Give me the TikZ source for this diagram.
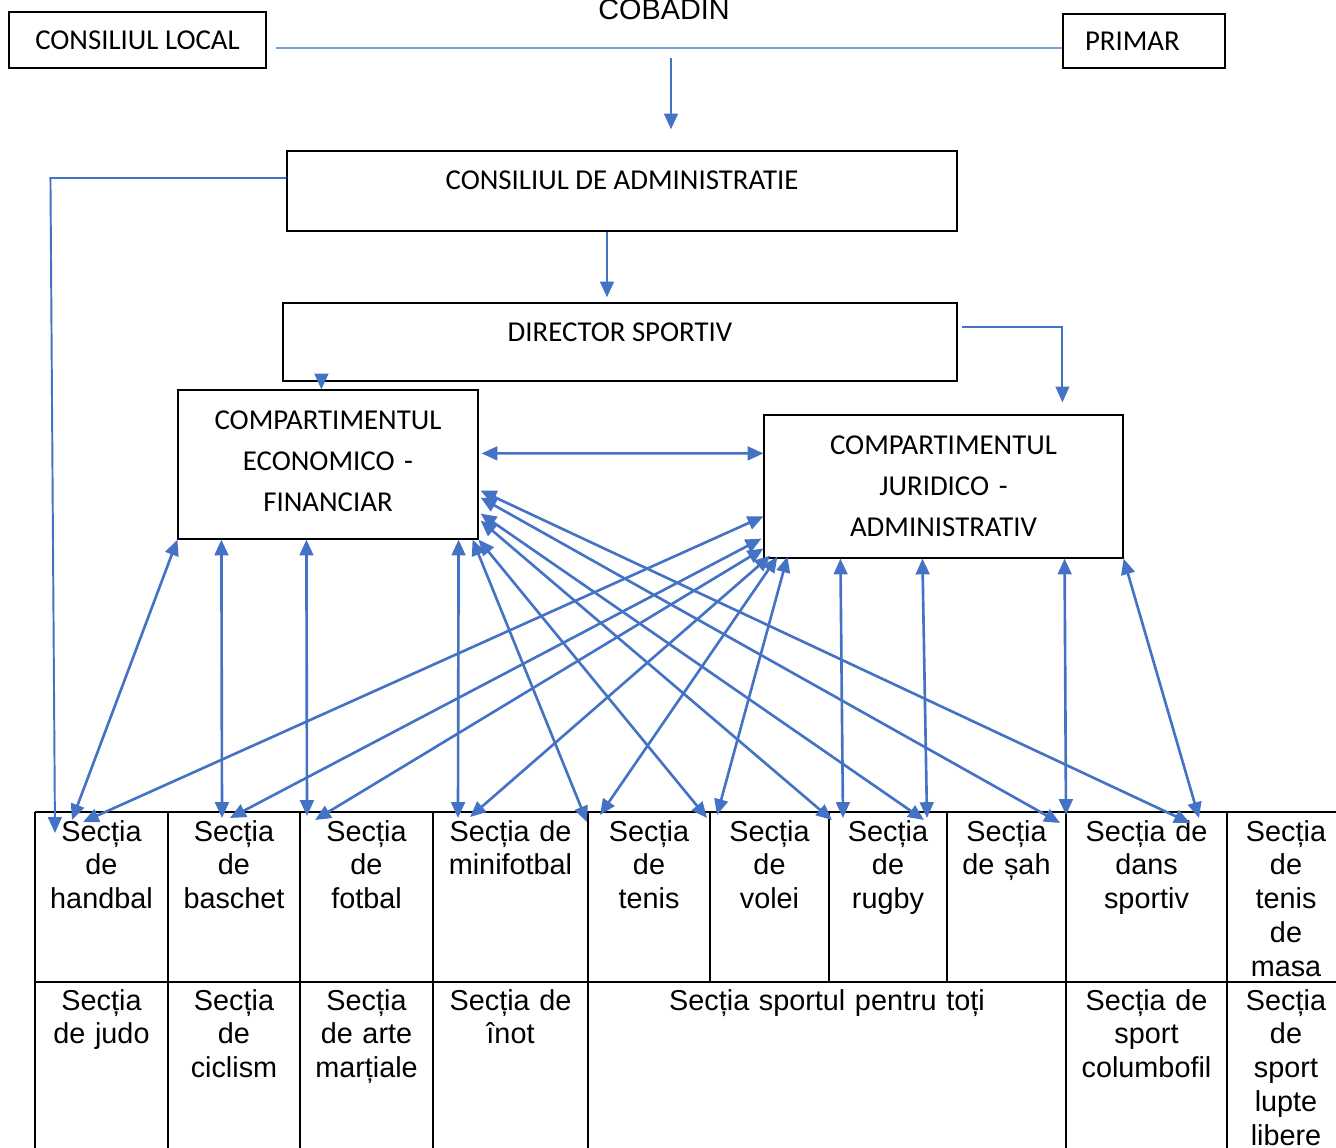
\documentclass[tikz,border=0pt]{standalone}
\usepackage{fontspec}
\setmainfont{Liberation Sans}
\newfontfamily\calibri{Carlito}
\usepackage{xcolor}
\usetikzlibrary{arrows.meta}
\usetikzlibrary{calc}
\definecolor{wordblue}{HTML}{4472C4}
\definecolor{paleblue}{HTML}{7A9EDC}
\tikzset{
	box/.style={
		draw,
		line width=0.7pt,
		rectangle,
		inner sep=0pt,
		align=center,
		font=\calibri\fontsize{16.4}{23.3}\selectfont
	},
	link/.style={
		wordblue,
		line width=1.5pt,
		-{Triangle[length=9pt,width=7.8pt]}
	},
	both/.style={
		link,
		{Triangle[length=9pt,width=7.8pt]}-{Triangle[length=9pt,width=7.8pt]}
	},
	cell/.style={
		anchor=base,
		inner sep=0pt,
		text width=2.8cm,
		align=center,
		font=\fontsize{16.4}{19.35}\selectfont
	}
}

\begin{document}
\begin{tikzpicture}[x=0.02cm,y=-0.02cm]
	\useasboundingbox (0,0) rectangle (1336,1148);
	\clip (0,0) rectangle (1336,1148);

	% (top)
	\node[anchor=base,font=\fontsize{16.4}{19}\selectfont] (title) at (664,20) {COBADIN};
	\node[box,line width=1pt,minimum width=5.14cm,minimum height=1.12cm] (cl) at (137.5,40) {CONSILIUL LOCAL};
	\node[box,line width=1pt,minimum width=3.24cm,minimum height=1.08cm,text width=2.36cm,align=left,inner xsep=0.44cm] (pr) at (1144,41) {PRIMAR};
	\node[box,minimum width=13.4cm,text height=0.766cm,text depth=0.834cm] (ca) at (622,191) {CONSILIUL DE ADMINISTRATIE};
	\node[box,minimum width=13.48cm,text height=0.766cm,text depth=0.794cm] (dir) at (620,342) {DIRECTOR SPORTIV};
	\node[box,text width=6cm,text height=0.786cm,text depth=2.194cm] (ef) at (328,464.5) {COMPARTIMENTUL\\ECONOMICO -\\FINANCIAR};
	\node[box,text width=7.18cm,text height=0.786cm,text depth=2.074cm] (ja) at (943.5,486.5) {COMPARTIMENTUL\\JURIDICO -\\ADMINISTRATIV};

	\draw[paleblue,line width=0.9pt] ($(cl.east)+(9,8)$) -- ($(pr.west)+(0,7)$);
	\coordinate (split) at (671,58);
	\draw[link] (split) -- ($(ca.north)+(49,-21)$);
	\draw[link] ($(ca.south)+(-15,0)$) -- ($(dir.north)+(-13,-5)$);
	\draw[link] ($(dir.south west)+(39,-6)$) -- ($(ef.north west)+(144,0)$);
	\draw[link,line width=1.1pt] ($(dir.east)+(4,-15)$) -| ($(ja.north west)+(299,-12)$);

	% (sectii)
	\draw[line width=1.1pt] (35,812) -- (1340,812);
	\draw[line width=1.1pt] (35,982) -- (1340,982);
	\draw[line width=1.1pt] (35,812) -- (35,1150);
	\draw[line width=1.1pt] (168,812) -- (168,1150);
	\draw[line width=1.1pt] (300,812) -- (300,1150);
	\draw[line width=1.1pt] (433,812) -- (433,1150);
	\draw[line width=1.1pt] (588,812) -- (588,1150);
	\draw[line width=1.1pt] (710,812) -- (710,982);
	\draw[line width=1.1pt] (829,812) -- (829,982);
	\draw[line width=1.1pt] (947,812) -- (947,982);
	\draw[line width=1.1pt] (1066,812) -- (1066,1150);
	\draw[line width=1.1pt] (1227,812) -- (1227,1150);

	\node[cell] (hb) at (101.5,841) {Secția\\de\\handbal};
	\node[cell] (bs) at (234,841) {Secția\\de\\baschet};
	\node[cell] (fb) at (366.5,841) {Secția\\de\\fotbal};
	\node[cell] (mf) at (510.5,841) {Secția de\\minifotbal};
	\node[cell] (tn) at (649,841) {Secția\\de\\tenis};
	\node[cell] (vl) at (769.5,841) {Secția\\de\\volei};
	\node[cell] (rg) at (888,841) {Secția\\de\\rugby};
	\node[cell] (sh) at (1006.5,841) {Secția\\de șah};
	\node[cell] (ds) at (1146.5,841) {Secția de\\dans\\sportiv};
	\node[cell] (tm) at (1286,841) {Secția\\de\\tenis\\de\\masa};
	\node[cell] (jd) at (101.5,1010) {Secția\\de judo};
	\node[cell] (cc) at (234,1010) {Secția\\de\\ciclism};
	\node[cell] (am) at (366.5,1010) {Secția\\de arte\\marțiale};
	\node[cell] (in) at (510.5,1010) {Secția de\\înot};
	\node[cell,text width=9cm] (st) at (827,1010) {Secția sportul pentru toți};
	\node[cell] (cb) at (1146.5,1010) {Secția de\\sport\\columbofil};
	\node[cell] (lp) at (1286,1010) {Secția\\de\\sport\\lupte\\libere};

	\coordinate (hbA) at (72,820);
	\coordinate (hbB) at (83,822);
	\coordinate (hbC) at (55,833);
	\coordinate (bsA) at (222,818);
	\coordinate (bsB) at (230,818);
	\coordinate (fbA) at (307,816);
	\coordinate (fbB) at (315,820);
	\coordinate (mfA) at (458,818);
	\coordinate (mfB) at (470,817);
	\coordinate (tnA) at (587,822);
	\coordinate (tnB) at (600,815);
	\coordinate (vlA) at (707,818);
	\coordinate (vlB) at (717,815);
	\coordinate (rgA) at (832,820);
	\coordinate (rgB) at (843,818);
	\coordinate (shA) at (924,820);
	\coordinate (shB) at (927,818);
	\coordinate (dsA) at (1060,823);
	\coordinate (dsB) at (1066,815);
	\coordinate (drA) at (1190,823);
	\coordinate (drB) at (1199,818);

	% (legaturi)
	\draw[link,line width=1.1pt] ($(ca.west)+(0,-13)$) -- ++(-236,0) -- (hbC);
	\draw[both] ($(ef.north east)+(3,64)$) -- ($(ja.north west)+(0,39)$);

	\draw[both] (ef.south west) -- (hbA);
	\draw[both] ($(ef.south west)+(44,0)$) -- (bsA);
	\draw[both] ($(ef.south west)+(129,0)$) -- (fbA);
	\draw[both] ($(ef.south east)+(-20,0)$) -- (mfA);
	\draw[both] ($(ef.south east)+(-6,0)$) -- (tnA);
	\draw[both] (ef.south east) -- (vlA);
	\draw[both] ($(ef.south east)+(2,-19)$) -- (rgA);
	\draw[both] ($(ef.south east)+(2,-26)$) -- (shA);
	\draw[both] ($(ef.south east)+(2,-42)$) -- (dsA);
	\draw[both] ($(ef.south east)+(2,-49)$) -- (drA);

	\draw[both] ($(ja.north west)+(0,102)$) -- (hbB);
	\draw[both] ($(ja.south west)+(-2,-20)$) -- (bsB);
	\draw[both] ($(ja.south west)+(0,-10)$) -- (fbB);
	\draw[both] ($(ja.south west)+(7,-3)$) -- (mfB);
	\draw[both] ($(ja.south west)+(14,-2)$) -- (tnB);
	\draw[both] ($(ja.south west)+(24,-2)$) -- (vlB);
	\draw[both] ($(ja.south west)+(77,0)$) -- (rgB);
	\draw[both] ($(ja.south west)+(159,0)$) -- (shB);
	\draw[both] ($(ja.south east)+(-59,0)$) -- (dsB);
	\draw[both] (ja.south east) -- (drB);
\end{tikzpicture}
\end{document}
